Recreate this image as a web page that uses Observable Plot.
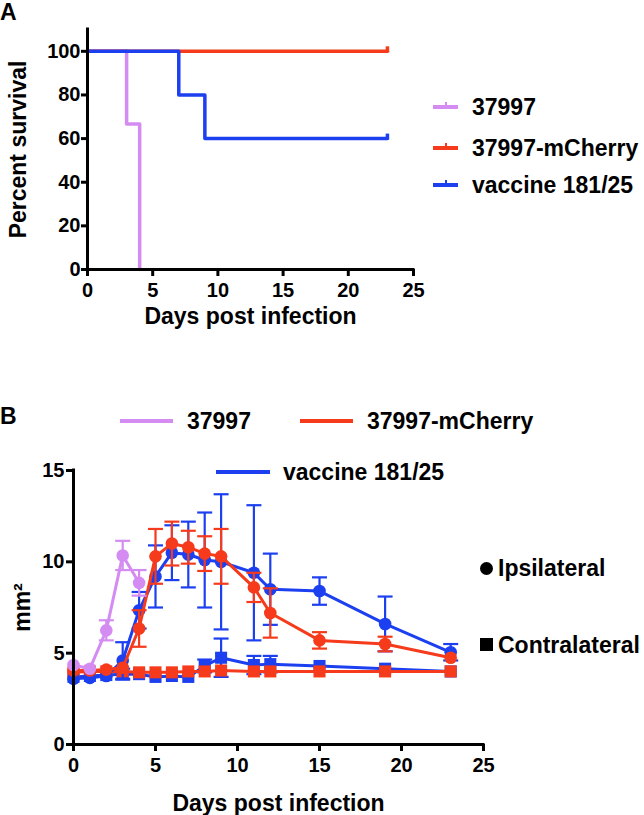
<!DOCTYPE html>
<html><head><meta charset="utf-8">
<script src="https://cdn.jsdelivr.net/npm/d3@7"></script>
<script src="https://cdn.jsdelivr.net/npm/@observablehq/plot@0.6"></script>
<style>
body{margin:0;background:#fff;}
#wrap{position:relative;width:644px;height:815px;overflow:hidden;font-family:"Liberation Sans",Arial,sans-serif;font-weight:bold;color:#000;background:#fff;}
.plot{position:absolute;left:0;}
.lbl{position:absolute;font-size:23px;line-height:1;white-space:nowrap;transform:translateY(-50%);}
.sw{position:absolute;height:4px;transform:translateY(-50%);}
</style></head><body><div id="wrap"></div>
<script>
// ---------- data ----------
const groups = ["37997", "37997-mCherry", "vaccine 181/25"];
const colors = ["#d48cf2", "#f53b1c", "#1c3ff0"];

// Panel A: Kaplan-Meier survival
const survDays37997 = [0, 3, 4];
const survPct37997 = [100, 66.7, 0];
const survDaysCherry = [0, 23];
const survPctCherry = [100, 100];
const survDaysVaccine = [0, 7, 9, 23];
const survPctVaccine = [100, 80, 60, 60];
const xTicks = [0, 5, 10, 15, 20, 25];
const yTicksA = [0, 20, 40, 60, 80, 100];

// Panel B: lesion area (mm²)
const days37997 = [0, 1, 2, 3, 4];
const ipsi37997 = [4.35, 4.15, 6.25, 10.35, 8.85];
const ipsiErr37997 = [0.1, 0.1, 0.55, 0.8, 0.7];

const daysLong = [0, 1, 2, 3, 4, 5, 6, 7, 8, 9, 11, 12, 15, 19, 23];
const ipsiCherry = [4.05, 4.05, 4.1, 4.2, 6.35, 10.3, 11.0, 10.8, 10.45, 10.3, 8.6, 7.2, 5.7, 5.5, 4.75];
const ipsiErrCherry = [0.1, 0.1, 0.1, 0.15, 1.0, 1.5, 1.2, 0.9, 0.95, 1.5, 0.8, 1.35, 0.45, 0.4, 0.15];
const contraCherry = [3.95, 4.0, 4.0, 4.0, 3.95, 3.95, 3.95, 4.0, 4.0, 4.05, 4.0, 4.0, 4.0, 4.0, 4.0];
const contraErrCherry = [0.1, 0.1, 0.1, 0.1, 0.1, 0.1, 0.1, 0.1, 0.1, 0.1, 0.1, 0.1, 0.1, 0.1, 0.1];
const ipsiVaccine = [3.6, 3.65, 3.75, 4.6, 7.35, 9.2, 10.5, 10.4, 10.1, 10.0, 9.4, 8.5, 8.4, 6.6, 5.05];
const ipsiErrVaccine = [0.1, 0.1, 0.1, 1.0, 1.0, 1.7, 1.5, 1.8, 2.6, 3.7, 3.7, 1.95, 0.75, 1.5, 0.45];
const contraVaccine = [3.7, 3.75, 3.8, 3.85, 3.85, 3.7, 3.75, 3.7, 4.3, 4.75, 4.35, 4.4, 4.3, 4.15, 4.0];
const contraErrVaccine = [0.05, 0.05, 0.05, 0.3, 0.1, 0.1, 0.1, 0.1, 0.35, 1.05, 0.5, 0.45, 0.1, 0.1, 0.05];
const yTicksB = [0, 5, 10, 15];

// ---------- helpers ----------
const font = '"Liberation Sans", Arial, sans-serif';
const capSym = {draw(ctx, size) { const r = Math.sqrt(size / Math.PI); ctx.moveTo(-r, 0); ctx.lineTo(r, 0); }};
const censorSym = {draw(ctx, size) { const r = Math.sqrt(size / Math.PI); ctx.moveTo(0, 1); ctx.lineTo(0, -r); }};
const colorOf = g => colors[groups.indexOf(g)];

const survival = [
  ...survDays37997.map((d, i) => ({group: groups[0], day: d, pct: survPct37997[i]})),
  ...survDaysCherry.map((d, i) => ({group: groups[1], day: d, pct: survPctCherry[i]})),
  ...survDaysVaccine.map((d, i) => ({group: groups[2], day: d, pct: survPctVaccine[i]}))
];
const censored = [
  {group: groups[1], day: survDaysCherry.at(-1), pct: survPctCherry.at(-1)},
  {group: groups[2], day: survDaysVaccine.at(-1), pct: survPctVaccine.at(-1)}
];

const wrap = document.getElementById("wrap");
const titleOpts = {text: d => d, fontSize: 23, fontWeight: "bold", textAnchor: "middle", lineAnchor: "middle"};

const plotA = Plot.plot({
  width: 644, height: 340,
  marginLeft: 87, marginRight: 231, marginTop: 29, marginBottom: 71,
  x: {domain: [0, 25]},
  y: {domain: [0, 110]},
  color: {domain: groups, range: colors},
  style: {fontFamily: font, fontWeight: "bold", fontSize: "20px", color: "#000", background: "transparent", overflow: "visible"},
  marks: [
    Plot.line(survival, {x: "day", y: "pct", z: "group", stroke: "group", curve: "step-after", strokeWidth: 3.5}),
    Plot.dot(censored, {x: "day", y: "pct", stroke: "group", symbol: censorSym, r: 5, strokeWidth: 3.5, fill: "none"}),
    Plot.ruleX([0], {stroke: "#000", strokeWidth: 3, strokeLinecap: "square"}),
    Plot.ruleY([0], {stroke: "#000", strokeWidth: 3, strokeLinecap: "square"}),
    Plot.axisX({ticks: xTicks, tickSize: 7, tickPadding: 6, strokeWidth: 3, label: null, fontSize: 20, fontWeight: "bold"}),
    Plot.axisY({ticks: yTicksA, tickSize: 6, tickPadding: 1, strokeWidth: 3, label: null, fontSize: 20, fontWeight: "bold"}),
    Plot.text(["Days post infection"], {...titleOpts, frameAnchor: "bottom", dy: 47}),
    Plot.text(["Percent survival"], {...titleOpts, frameAnchor: "left", dx: -69, rotate: -90})
  ]
});
plotA.classList.add("plot");
plotA.style.top = "0px";
wrap.appendChild(plotA);

function rows(group, days, vals, errs) {
  return days.map((d, i) => ({group, day: d, v: vals[i], lo: vals[i] - errs[i], hi: vals[i] + errs[i], e: errs[i]}));
}
function seriesMarks(data, color, symbol, r) {
  const bars = data.filter(d => d.e > 0.2);
  return [
    Plot.line(data, {x: "day", y: "v", stroke: color, strokeWidth: 3}),
    Plot.ruleX(bars, {x: "day", y1: "lo", y2: "hi", stroke: color, strokeWidth: 2.2}),
    Plot.dot(bars, {x: "day", y: "lo", symbol: capSym, r: 7.5, stroke: color, strokeWidth: 2.2, fill: "none"}),
    Plot.dot(bars, {x: "day", y: "hi", symbol: capSym, r: 7.5, stroke: color, strokeWidth: 2.2, fill: "none"}),
    Plot.dot(data, {x: "day", y: "v", symbol, r, fill: color, stroke: "none"})
  ];
}

const plotB = Plot.plot({
  width: 644, height: 425,
  marginLeft: 73, marginRight: 161, marginTop: 80, marginBottom: 71,
  x: {domain: [0, 25]},
  y: {domain: [0, 15]},
  style: {fontFamily: font, fontWeight: "bold", fontSize: "20px", color: "#000", background: "transparent", overflow: "visible"},
  marks: [
    ...seriesMarks(rows(groups[2], daysLong, contraVaccine, contraErrVaccine), colorOf(groups[2]), "square", 6.8),
    ...seriesMarks(rows(groups[1], daysLong, contraCherry, contraErrCherry), colorOf(groups[1]), "square", 6.8),
    ...seriesMarks(rows(groups[2], daysLong, ipsiVaccine, ipsiErrVaccine), colorOf(groups[2]), "circle", 6.3),
    ...seriesMarks(rows(groups[1], daysLong, ipsiCherry, ipsiErrCherry), colorOf(groups[1]), "circle", 6.3),
    ...seriesMarks(rows(groups[0], days37997, ipsi37997, ipsiErr37997), colorOf(groups[0]), "circle", 6.3),
    Plot.ruleX([0], {stroke: "#000", strokeWidth: 3, strokeLinecap: "square"}),
    Plot.ruleY([0], {stroke: "#000", strokeWidth: 3, strokeLinecap: "square"}),
    Plot.axisX({ticks: xTicks, tickSize: 7, tickPadding: 6, strokeWidth: 3, label: null, fontSize: 20, fontWeight: "bold"}),
    Plot.axisY({ticks: yTicksB, tickSize: 7, tickPadding: 2, strokeWidth: 3, label: null, fontSize: 20, fontWeight: "bold"}),
    Plot.text(["Days post infection"], {...titleOpts, frameAnchor: "bottom", dy: 59}),
    Plot.text(["mm²"], {...titleOpts, frameAnchor: "left", dx: -51, rotate: -90})
  ]
});
plotB.classList.add("plot");
plotB.style.top = "390px";
wrap.appendChild(plotB);

// ---------- HTML labels & legends ----------
function addText(txt, x, y, size) {
  const d = document.createElement("div");
  d.className = "lbl"; d.textContent = txt;
  d.style.left = x + "px"; d.style.top = y + "px";
  if (size) d.style.fontSize = size + "px";
  wrap.appendChild(d);
}
function addSwatch(x, y, w, color, tick) {
  const d = document.createElement("div");
  d.className = "sw"; d.style.left = x + "px"; d.style.top = y + "px";
  d.style.width = w + "px"; d.style.background = color;
  if (tick) {
    const t = document.createElement("div");
    t.style.cssText = `position:absolute;left:${w / 2 - 1}px;top:-3px;width:2.5px;height:4px;background:${color}`;
    d.appendChild(t);
  }
  wrap.appendChild(d);
}
addText("A", 0, 12);
addText("B", 0, 416);

// Panel A legend
const legA = [107, 148, 185];
groups.forEach((g, i) => { addSwatch(433, legA[i], 25, colors[i], true); addText(g, 472, legA[i]); });

// Panel B legend
addSwatch(120, 421, 53, colors[0]); addText(groups[0], 187, 421);
addSwatch(300, 421, 53, colors[1]); addText(groups[1], 367, 421);
addSwatch(216, 472, 54, colors[2]); addText(groups[2], 283, 472);

// Marker legend
const dot = document.createElement("div");
dot.style.cssText = "position:absolute;left:480px;top:561.5px;width:13px;height:13px;border-radius:50%;background:#000";
wrap.appendChild(dot);
addText("Ipsilateral", 498, 568);
const sq = document.createElement("div");
sq.style.cssText = "position:absolute;left:480px;top:638px;width:13px;height:13px;background:#000";
wrap.appendChild(sq);
addText("Contralateral", 498, 645);
</script>
</body></html>
